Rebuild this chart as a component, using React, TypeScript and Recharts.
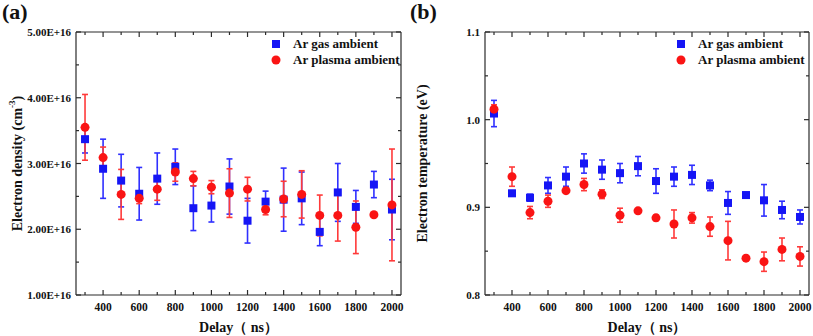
import React from 'react';
import {
  ScatterChart,
  Scatter,
  XAxis,
  YAxis,
  ErrorBar,
  Legend,
  Label
} from 'recharts';

// delay (ns)
const delays = [300, 400, 500, 600, 700, 800, 900, 1000, 1100, 1200, 1300, 1400, 1500, 1600, 1700, 1800, 1900, 2000];

// electron density (cm^-3)
const gasDensity = [3.37e16, 2.92e16, 2.74e16, 2.54e16, 2.77e16, 2.95e16, 2.32e16, 2.36e16, 2.65e16, 2.13e16, 2.42e16, 2.45e16, 2.47e16, 1.96e16, 2.56e16, 2.34e16, 2.68e16, 2.30e16];
const gasDensityErr = [0.21e16, 0.45e16, 0.40e16, 0.40e16, 0.39e16, 0.27e16, 0.34e16, 0.25e16, 0.42e16, 0.34e16, 0.16e16, 0.48e16, 0.40e16, 0.21e16, 0.44e16, 0.25e16, 0.20e16, 0.46e16];
const plasmaDensity = [3.55e16, 3.09e16, 2.53e16, 2.47e16, 2.61e16, 2.87e16, 2.77e16, 2.64e16, 2.55e16, 2.61e16, 2.30e16, 2.46e16, 2.53e16, 2.21e16, 2.21e16, 2.03e16, 2.22e16, 2.37e16];
const plasmaDensityErr = [0.50e16, 0.16e16, 0.38e16, 0.08e16, 0.17e16, 0.14e16, 0.11e16, 0.10e16, 0.37e16, 0.18e16, 0.08e16, 0.27e16, 0.36e16, 0.31e16, 0.39e16, 0.40e16, 0.03e16, 0.85e16];

// electron temperature (eV)
const gasTemp = [1.007, 0.916, 0.911, 0.925, 0.935, 0.950, 0.943, 0.939, 0.947, 0.930, 0.935, 0.937, 0.925, 0.905, 0.914, 0.908, 0.897, 0.889];
const gasTempErr = [0.015, 0.003, 0.004, 0.009, 0.011, 0.011, 0.011, 0.011, 0.011, 0.014, 0.011, 0.011, 0.006, 0.013, 0.003, 0.018, 0.010, 0.008];
const plasmaTemp = [1.012, 0.935, 0.894, 0.907, 0.919, 0.926, 0.915, 0.891, 0.896, 0.888, 0.881, 0.888, 0.878, 0.862, 0.842, 0.838, 0.852, 0.844];
const plasmaTempErr = [0.005, 0.011, 0.007, 0.007, 0.003, 0.007, 0.005, 0.008, 0.002, 0.003, 0.016, 0.006, 0.011, 0.022, 0.002, 0.011, 0.013, 0.011];

// axis ticks (majors get labels)
const xTicks = [300, 400, 500, 600, 700, 800, 900, 1000, 1100, 1200, 1300, 1400, 1500, 1600, 1700, 1800, 1900, 2000];
const densityTicks = [1e16, 1.5e16, 2e16, 2.5e16, 3e16, 3.5e16, 4e16, 4.5e16, 5e16];
const tempTicks = [0.8, 0.85, 0.9, 0.95, 1.0, 1.05, 1.1];

const FONT = '"Liberation Serif", "Times New Roman", serif';
const AXIS = '#2b2b2b';
const BLUE = '#1515f5';
const RED = '#fa1414';

const toRows = (y: number[], err: number[]) => delays.map((d, i) => ({ x: d, y: y[i], err: err[i] }));

const isMajorX = (v: number) => v % 200 === 0;

// tick marks point into the plot; axes are 1px thick so x/y sit on the axis line
const makeXTick = (side: 'bottom' | 'top') => (props: any) => {
  const { x, y, payload } = props;
  const major = isMajorX(payload.value);
  const len = major ? 5 : 3;
  const dir = side === 'bottom' ? -1 : 1;
  return (
    <g>
      <line x1={x} x2={x} y1={y} y2={y + dir * len} stroke={AXIS} strokeWidth={1.2} />
      {side === 'bottom' && major && (
        <text x={x} y={y + 16} textAnchor="middle" fontFamily={FONT} fontWeight="bold" fontSize={11.5} fill="#111">
          {payload.value}
        </text>
      )}
    </g>
  );
};

const makeYTick = (side: 'left' | 'right', isMajor: (v: number) => boolean, fmt: (v: number) => string) => (props: any) => {
  const { x, y, payload } = props;
  const major = isMajor(payload.value);
  const len = major ? 5 : 3;
  const dir = side === 'left' ? 1 : -1;
  return (
    <g>
      <line x1={x} x2={x + dir * len} y1={y} y2={y} stroke={AXIS} strokeWidth={1.2} />
      {side === 'left' && major && (
        <text x={x - 5} y={y + 4} textAnchor="end" fontFamily={FONT} fontWeight="bold" fontSize={11} fill="#111">
          {fmt(payload.value)}
        </text>
      )}
    </g>
  );
};

const squareShape = (props: any) => {
  const { cx, cy } = props;
  return <rect x={cx - 4} y={cy - 4} width={8} height={8} fill={BLUE} />;
};

const circleShape = (props: any) => {
  const { cx, cy } = props;
  return <circle cx={cx} cy={cy} r={4.5} fill={RED} />;
};

const renderLegend = (props: any) => {
  const { payload } = props;
  return (
    <div style={{ fontFamily: FONT, fontWeight: 'bold', fontSize: 13, color: '#111' }}>
      {(payload || []).map((entry: any, i: number) => (
        <div key={i} style={{ display: 'flex', alignItems: 'center', height: 16 }}>
          <svg width={10} height={10} style={{ marginRight: 12 }}>
            {entry.type === 'square'
              ? <rect x={1} y={1} width={8} height={8} fill={entry.color} />
              : <circle cx={5} cy={5} r={4.5} fill={entry.color} />}
          </svg>
          <span>{entry.value}</span>
        </div>
      ))}
    </div>
  );
};

interface PanelProps {
  gas: { x: number; y: number; err: number }[];
  plasma: { x: number; y: number; err: number }[];
  yDomain: [number, number];
  yTicks: number[];
  isMajorY: (v: number) => boolean;
  fmtY: (v: number) => string;
  yTitle: React.ReactNode;
  marginLeft: number;
  width: number;
  legendLeft: number;
}

const Panel = ({ gas, plasma, yDomain, yTicks, isMajorY, fmtY, yTitle, marginLeft, width, legendLeft }: PanelProps) => (
  <ScatterChart width={width} height={336} margin={{ top: 31, right: 3, bottom: 40, left: marginLeft - 1 }}>
    <XAxis
      xAxisId="b"
      type="number"
      dataKey="x"
      domain={[250, 2050]}
      allowDataOverflow
      ticks={xTicks}
      interval={0}
      height={1}
      tickSize={0}
      tickMargin={0}
      tickLine={false}
      stroke={AXIS}
      strokeWidth={1.2}
      tick={makeXTick('bottom')}
    >
      <Label
        content={(p: any) => {
          const vb = p.viewBox;
          return (
            <text x={vb.x + vb.width / 2} y={vb.y + 37} textAnchor="middle" fontFamily={FONT} fontWeight="bold" fontSize={14} fill="#111">
              Delay（ ns）
            </text>
          );
        }}
      />
    </XAxis>
    <XAxis
      xAxisId="t"
      orientation="top"
      type="number"
      dataKey="x"
      domain={[250, 2050]}
      allowDataOverflow
      ticks={xTicks}
      interval={0}
      height={1}
      tickSize={0}
      tickMargin={0}
      tickLine={false}
      stroke={AXIS}
      strokeWidth={1.2}
      tick={makeXTick('top')}
    />
    <YAxis
      yAxisId="l"
      type="number"
      dataKey="y"
      domain={yDomain}
      allowDataOverflow
      ticks={yTicks}
      interval={0}
      width={1}
      tickSize={0}
      tickMargin={0}
      tickLine={false}
      stroke={AXIS}
      strokeWidth={1.2}
      tick={makeYTick('left', isMajorY, fmtY)}
    >
      <Label
        content={(p: any) => {
          const vb = p.viewBox;
          const cx = vb.x - (marginLeft - 18);
          const cy = vb.y + vb.height / 2;
          return (
            <text x={cx} y={cy} transform={`rotate(-90 ${cx} ${cy})`} textAnchor="middle" dominantBaseline="central" fontFamily={FONT} fontWeight="bold" fontSize={14} fill="#111">
              {yTitle}
            </text>
          );
        }}
      />
    </YAxis>
    <YAxis
      yAxisId="r"
      orientation="right"
      type="number"
      dataKey="y"
      domain={yDomain}
      allowDataOverflow
      ticks={yTicks}
      interval={0}
      width={1}
      tickSize={0}
      tickMargin={0}
      tickLine={false}
      stroke={AXIS}
      strokeWidth={1.2}
      tick={makeYTick('right', isMajorY, fmtY)}
    />
    <Legend
      layout="vertical"
      align="center"
      verticalAlign="middle"
      content={renderLegend}
      wrapperStyle={{ top: 36, left: legendLeft, width: 'auto' }}
    />
    <Scatter
      name="Ar gas ambient"
      data={gas}
      xAxisId="b"
      yAxisId="l"
      fill={BLUE}
      legendType="square"
      shape={squareShape}
      isAnimationActive={false}
    >
      <ErrorBar dataKey="err" direction="y" width={3} stroke="#3030ff" strokeWidth={1.6} isAnimationActive={false} />
    </Scatter>
    <Scatter
      name="Ar plasma ambient"
      data={plasma}
      xAxisId="t"
      yAxisId="r"
      fill={RED}
      legendType="circle"
      shape={circleShape}
      isAnimationActive={false}
    >
      <ErrorBar dataKey="err" direction="y" width={3} stroke="#ff3a3a" strokeWidth={1.6} isAnimationActive={false} />
    </Scatter>
  </ScatterChart>
);

const panelLabel: React.CSSProperties = {
  position: 'absolute',
  top: 0,
  fontFamily: FONT,
  fontWeight: 'bold',
  fontSize: 22,
  lineHeight: '24px',
  color: '#111'
};

export default function App() {
  return (
    <div style={{ position: 'absolute', left: 0, top: 0, width: 813, height: 336, background: '#fff', overflow: 'hidden' }}>
      <div style={{ position: 'absolute', left: 0, top: 0 }}>
        <Panel
          gas={toRows(gasDensity, gasDensityErr)}
          plasma={toRows(plasmaDensity, plasmaDensityErr)}
          yDomain={[1e16, 5e16]}
          yTicks={densityTicks}
          isMajorY={(v) => Math.abs(Math.round(v / 1e16) * 1e16 - v) < 1e12}
          fmtY={(v) => v.toExponential(2).toUpperCase()}
          yTitle={<>Electron density (cm<tspan baselineShift="super" fontSize={9}>-3</tspan>)</>}
          marginLeft={76}
          width={405}
          legendLeft={271}
        />
      </div>
      <div style={{ position: 'absolute', left: 405, top: 0 }}>
        <Panel
          gas={toRows(gasTemp, gasTempErr)}
          plasma={toRows(plasmaTemp, plasmaTempErr)}
          yDomain={[0.8, 1.1]}
          yTicks={tempTicks}
          isMajorY={(v) => Math.abs(Math.round(v * 10) / 10 - v) < 1e-6}
          fmtY={(v) => v.toFixed(1)}
          yTitle="Electron temperature (eV)"
          marginLeft={80}
          width={408}
          legendLeft={271}
        />
      </div>
      <div style={{ ...panelLabel, left: 2 }}>(a)</div>
      <div style={{ ...panelLabel, left: 410 }}>(b)</div>
    </div>
  );
}
